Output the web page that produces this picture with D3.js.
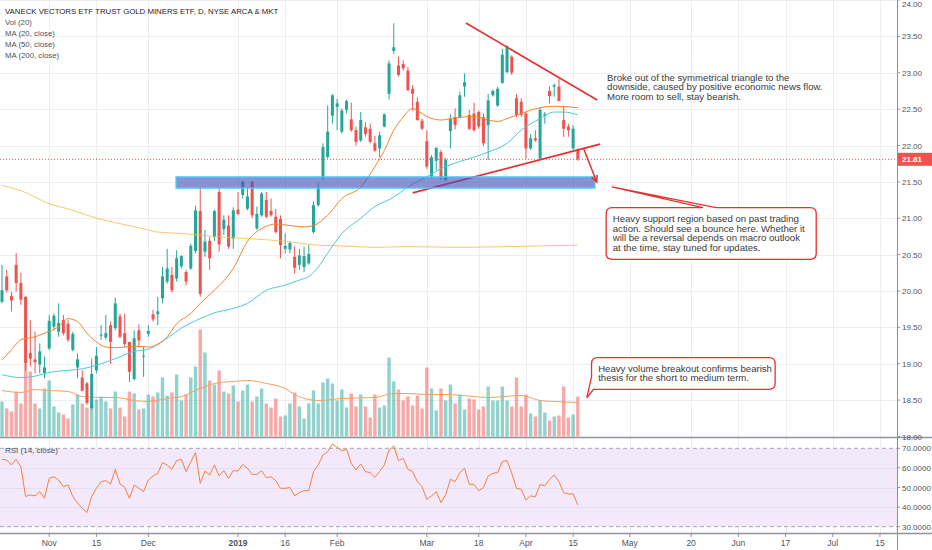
<!DOCTYPE html>
<html>
<head>
<meta charset="utf-8">
<script src="https://cdn.jsdelivr.net/npm/d3@7"></script>
<style>
  body { margin: 0; background: #fff; }
  svg { display: block; font-family: "Liberation Sans", Arial, sans-serif; }
</style>
</head>
<body>
<div class="chart"></div>
<script>
// bar index 0 = 1 Nov 2018, one step per trading day
const firstBar = -10

const opens = [19.85,20.20,19.93,20.36,20.11,19.92,19.15,19.06,18.99,18.87,
  19.21,19.51,19.44,19.60,19.55,19.19,18.95,18.81,18.73,18.39,
  18.91,19.39,19.36,19.53,19.49,19.65,19.42,19.30,18.79,19.46,
  19.10,19.41,19.68,19.68,19.90,20.13,20.22,20.17,20.34,20.26,
  20.31,20.55,21.10,20.54,20.69,20.74,21.36,20.85,20.90,20.72,
  21.12,21.32,21.13,21.50,20.86,21.04,21.25,21.10,21.02,20.99,
  20.58,20.57,20.47,20.36,20.33,20.38,20.81,21.18,21.55,21.84,
  22.41,22.53,22.19,22.49,22.36,22.21,22.07,22.25,22.23,22.03,
  21.96,22.26,22.71,23.30,23.10,23.12,23.03,22.78,22.60,22.34,
  22.06,21.57,21.79,21.91,21.53,22.20,22.39,22.39,22.81,22.42,
  22.44,22.46,22.39,22.28,22.69,22.55,22.86,23.01,23.22,22.65,
  22.60,22.44,21.96,22.10,21.82,22.41,22.75,22.81,22.81,22.35,
  22.26,21.96,21.94]
const highs = [20.36,20.29,19.99,20.52,20.25,19.93,19.60,19.44,19.28,19.10,
  19.67,19.69,19.83,19.67,19.60,19.44,19.14,18.91,18.75,19.07,
  19.23,19.53,19.67,19.58,19.91,19.69,19.69,19.30,19.46,19.54,
  19.23,19.53,19.74,19.92,20.33,20.58,20.33,20.56,20.49,20.29,
  20.65,21.17,21.43,20.84,20.74,21.12,21.41,21.04,21.04,21.15,
  21.36,21.52,21.43,21.51,21.16,21.36,21.36,21.27,21.13,21.04,
  20.79,20.68,20.61,20.58,20.61,20.63,21.23,21.48,22.03,22.55,
  22.71,22.64,22.51,22.63,22.59,22.26,22.46,22.32,22.30,22.13,
  22.19,22.44,23.17,23.68,23.22,23.17,23.08,22.83,22.66,22.37,
  22.21,21.87,21.97,21.94,21.83,22.43,22.51,22.74,22.99,22.49,
  22.59,22.48,22.44,22.71,22.77,22.81,23.33,23.38,23.24,22.71,
  22.65,22.46,22.16,22.21,22.52,22.46,22.81,22.85,22.92,22.53,
  22.30,22.28,21.96]
const lows = [19.83,19.98,19.72,19.99,19.81,18.91,18.96,18.87,18.87,18.80,
  19.19,19.46,19.37,19.39,19.30,19.17,18.80,18.62,18.43,18.37,
  18.87,19.33,19.33,19.00,19.46,19.35,19.23,18.75,18.77,19.23,
  18.82,19.37,19.58,19.53,19.83,20.10,19.98,20.13,20.31,20.08,
  20.29,20.52,19.92,20.47,20.29,20.69,20.54,20.77,20.58,20.58,
  21.04,21.27,21.11,21.00,20.84,21.02,21.00,21.02,20.79,20.45,
  20.52,20.52,20.24,20.29,20.26,20.36,20.79,21.16,21.52,21.82,
  22.30,22.21,22.16,22.44,22.19,22.00,22.05,22.12,22.03,21.91,
  21.84,22.25,22.63,23.26,22.95,23.03,22.75,22.48,22.34,22.21,
  21.68,21.55,21.66,21.53,21.51,21.96,22.22,22.37,22.67,22.21,
  22.19,22.23,21.99,21.80,22.67,22.53,22.85,22.99,22.97,22.39,
  22.39,21.82,21.94,22.05,21.81,22.30,22.58,22.67,22.61,22.12,
  22.12,21.94,21.79]
const closes = [20.01,20.01,19.87,20.11,19.88,19.01,19.07,19.02,19.17,18.95,
  19.59,19.66,19.56,19.42,19.33,19.41,19.06,18.63,18.46,18.86,
  19.11,19.40,19.42,19.30,19.83,19.37,19.27,18.89,19.35,19.32,
  19.11,19.45,19.61,19.72,20.20,20.31,20.01,20.45,20.48,20.13,
  20.62,21.11,19.96,20.68,20.45,21.10,20.64,20.98,20.61,21.11,
  21.06,21.50,21.30,21.04,21.06,21.34,21.02,21.04,20.81,20.63,
  20.62,20.66,20.32,20.49,20.48,20.51,21.18,21.43,21.98,22.19,
  22.69,22.58,22.48,22.61,22.21,22.05,22.35,22.16,22.05,21.93,
  22.14,22.43,23.13,23.35,22.97,23.06,22.76,22.71,22.35,22.23,
  21.71,21.84,21.97,21.56,21.80,22.37,22.28,22.69,22.87,22.23,
  22.21,22.26,22.03,22.62,22.75,22.78,23.25,23.36,23.00,22.42,
  22.42,21.96,22.10,22.07,22.49,22.43,22.68,22.83,22.61,22.23,
  22.21,22.23,21.81]
// volume, millions of shares
const volumes = [35,28,25,45,33,73,65,33,28,48,
  56,30,24,22,18,32,42,33,29,34,
  37,40,35,28,45,29,20,45,43,27,
  28,42,40,44,59,41,44,62,36,42,
  59,70,107,84,56,52,66,45,43,51,
  35,46,52,35,40,48,33,29,38,20,
  21,33,44,30,18,33,46,33,54,58,
  53,36,47,29,43,30,42,30,19,42,
  29,31,79,55,47,36,40,31,41,28,
  69,48,26,48,36,52,33,42,27,38,
  37,27,30,50,36,36,50,36,30,59,
  30,42,23,20,36,24,16,20,21,50,
  19,22,40]
const rsiValues = [64.4,64.0,61.5,64.4,60.6,45.4,46.2,45.7,47.9,44.5,
  54.7,55.5,53.8,50.4,51.3,45.4,42.0,39.4,37.2,45.4,
  49.6,53.0,53.5,51.8,59.3,51.8,50.1,44.5,51.3,49.6,
  47.9,53.8,55.9,57.2,62.7,61.5,59.3,63.7,64.4,58.1,
  63.2,67.8,52.1,58.4,56.4,61.5,55.9,58.6,54.7,58.6,
  58.4,61.8,59.8,56.7,56.7,58.6,55.0,55.5,53.5,49.6,
  49.6,50.0,45.7,47.4,48.4,48.4,58.1,61.5,66.6,68.3,
  72.2,70.5,68.8,69.5,62.3,58.9,62.0,58.1,57.6,55.2,
  58.1,61.5,69.1,71.2,63.7,64.9,59.3,58.1,53.0,50.4,
  44.0,45.7,47.9,42.3,46.2,54.2,53.0,57.6,59.8,51.6,
  51.6,48.4,49.9,55.9,57.2,57.6,63.2,63.7,57.2,49.6,
  49.1,43.6,45.7,45.3,51.6,50.8,54.2,56.4,53.0,47.4,
  46.7,46.7,41.1]

// moving averages: [bar index, value]
const ma20 = [[-10,19.05],[-8,19.19],[-6,19.33],[-3,19.37],[-1,19.42],[2,19.51],[4,19.62],[6,19.58],[8,19.42],[10,19.30],
  [12,19.23],[14,19.22],[16,19.23],[19,19.24],[21,19.23],[25,19.37],[27,19.55],[30,19.69],[32,19.83],[35,20.01],
  [39,20.31],[42,20.68],[46,20.89],[48,20.92],[51,20.90],[54,20.88],[56,20.90],[59,21.04],[62,21.27],[66,21.43],
  [69,21.71],[71,21.93],[73,22.21],[75,22.39],[77,22.51],[78,22.48],[80,22.40],[83,22.35],[86,22.38],[90,22.40],
  [93,22.35],[95,22.33],[97,22.37],[100,22.44],[104,22.52],[107,22.54],[112,22.52]]
const ma50 = [[-10,18.85],[-6,18.81],[-3,18.83],[0,18.88],[4,18.91],[7,18.93],[11,19.00],[14,19.07],[18,19.17],[21,19.20],
  [23,19.27],[25,19.35],[28,19.49],[32,19.62],[35,19.70],[39,19.76],[42,19.83],[46,20.01],[50,20.08],[53,20.15],
  [55,20.20],[57,20.33],[59,20.52],[62,20.79],[66,21.00],[69,21.16],[73,21.29],[76,21.43],[80,21.57],[83,21.68],
  [87,21.78],[90,21.84],[93,21.91],[97,22.03],[100,22.21],[104,22.37],[107,22.46],[109,22.46],[112,22.42]]
const ma200 = [[-10,21.45],[-6,21.38],[0,21.20],[5,21.11],[10,21.00],[14,20.94],[19,20.87],[23,20.81],[28,20.79],[35,20.75],
  [42,20.72],[49,20.69],[57,20.63],[62,20.62],[69,20.60],[76,20.61],[87,20.60],[97,20.61],[112,20.63]]
const volMa20 = [[-10,46],[-6,44],[-3,47],[0,46],[4,45],[7,40],[11,39],[14,39],[18,36],[21,35],
  [25,38],[28,40],[32,48],[35,53],[39,55],[42,56],[46,53],[50,48],[52,42],[55,37],
  [57,36],[62,38],[69,39],[73,43],[76,43],[80,42],[84,42],[90,40],[93,39],[100,41],
  [104,36],[107,35],[112,34]]

const timeTicks = [[0,'Nov'],[10,'15'],[21,'Dec'],[40,'2019'],[50,'16'],[61,'Feb'],[80,'Mar'],[91,'18'],
  [101,'Apr'],[111,'15'],[123,'May'],[136,'20'],[146,'Jun'],[156,'17'],[166,'Jul'],[176,'15']]
const priceTicks = [18, 18.5, 19, 19.5, 20, 20.5, 21, 21.5, 22, 22.5, 23, 23.5, 24]
const rsiTicks = [30, 40, 50, 60, 70]
const lastPrice = 21.81

const legendLines = ['VANECK VECTORS ETF TRUST GOLD MINERS ETF, D, NYSE ARCA & MKT', 'Vol (20)', 'MA (20, close)', 'MA (50, close)', 'MA (200, close)']

// drawings, in [bar index, price]
const upperTrend = [[88.3, 23.684], [116.1, 22.624]]
const lowerTrend = [[77.0, 21.349], [116.7, 22.018]]
const supportZone = [[26.9, 21.567], [115.6, 21.416]]
const breakArrow = [[113.2, 21.961], [116.0, 21.498]]
const noteBreakout = ['Broke out of the symmetrical triangle to the', 'downside, caused by positive economic news flow.', 'More room to sell, stay bearish.']
const noteSupport = ['Heavy support region based on past trading', 'action. Should see a bounce here. Whether it', 'will be a reversal depends on macro outlook', 'at the time, stay tuned for updates.']
const noteVolume = ['Heavy volume breakout confirms bearish', 'thesis for the short to medium term.']

function drawChart() {
  const dims = { width: 932, height: 550, axisX: 897, mainBottom: 437, rsiTop: 438, rsiBottom: 533 }
  const up = '#26a69a', down = '#ef5350', red = '#e8302f'

  const bars = opens.map((o, k) => ({
    i: firstBar + k, o, h: highs[k], l: lows[k], c: closes[k], v: volumes[k], r: rsiValues[k]
  }))

  const x = d3.scaleLinear().domain([0, 176]).range([49.2, 49.2 + 176 * 4.72])
  const y = d3.scaleLinear().domain([18, 24]).range([436.5, 0])
  const yVol = d3.scaleLinear().domain([0, 100]).range([436.5, 336.5])
  const yRsi = d3.scaleLinear().domain([30, 70]).range([526.7, 448.3])
  const step = x(1) - x(0)

  const svg = d3.select('.chart').append('svg')
    .attr('width', dims.width)
    .attr('height', dims.height)

  const defs = svg.append('defs')
  defs.append('clipPath').attr('id', 'mainClip').append('rect')
    .attr('x', 0).attr('y', 0).attr('width', dims.axisX).attr('height', dims.mainBottom)
  defs.append('clipPath').attr('id', 'rsiClip').append('rect')
    .attr('x', 0).attr('y', dims.rsiTop).attr('width', dims.axisX).attr('height', dims.rsiBottom - dims.rsiTop)

  // rsi background band
  svg.append('rect')
    .attr('x', 0).attr('width', dims.axisX)
    .attr('y', yRsi(70)).attr('height', yRsi(30) - yRsi(70))
    .attr('fill', '#f3e9fb')

  // grid
  const grid = svg.append('g').attr('stroke', '#eceef3').attr('stroke-width', 1)
  grid.selectAll('.vg').data(timeTicks).join('line')
    .attr('x1', d => Math.round(x(d[0])) + 0.5).attr('x2', d => Math.round(x(d[0])) + 0.5)
    .attr('y1', 0).attr('y2', dims.rsiBottom)
  grid.selectAll('.hg').data(priceTicks.slice(1)).join('line')
    .attr('x1', 0).attr('x2', dims.axisX)
    .attr('y1', d => Math.round(y(d)) + 0.5).attr('y2', d => Math.round(y(d)) + 0.5)
  svg.append('g').attr('stroke', '#e6def0')
    .selectAll('line').data([40, 50, 60]).join('line')
    .attr('x1', 0).attr('x2', dims.axisX)
    .attr('y1', d => Math.round(yRsi(d)) + 0.5).attr('y2', d => Math.round(yRsi(d)) + 0.5)
  svg.append('g').attr('stroke', '#a3a6af').attr('stroke-dasharray', '4,3')
    .selectAll('line').data([30, 70]).join('line')
    .attr('x1', 0).attr('x2', dims.axisX)
    .attr('y1', d => yRsi(d)).attr('y2', d => yRsi(d))

  const main = svg.append('g').attr('clip-path', 'url(#mainClip)')

  // volume
  main.append('g').selectAll('rect').data(bars).join('rect')
    .attr('x', d => x(d.i) - step * 0.36)
    .attr('width', step * 0.72)
    .attr('y', d => yVol(d.v))
    .attr('height', d => yVol(0) - yVol(d.v))
    .attr('fill', d => d.c >= d.o ? up : down)
    .attr('opacity', 0.5)

  const maLine = (scaleY) => d3.line()
    .x(d => x(d[0])).y(d => scaleY(d[1]))
    .curve(d3.curveMonotoneX)

  main.append('path').datum(volMa20)
    .attr('d', maLine(yVol)).attr('fill', 'none')
    .attr('stroke', '#f5a25d').attr('stroke-width', 1)

  // candles
  const candles = main.append('g').selectAll('g').data(bars).join('g')
    .attr('fill', d => d.c >= d.o ? up : down)
    .attr('stroke', d => d.c >= d.o ? up : down)
  candles.append('line')
    .attr('x1', d => x(d.i)).attr('x2', d => x(d.i))
    .attr('y1', d => y(d.h)).attr('y2', d => y(d.l))
    .attr('stroke-width', 1)
  candles.append('rect')
    .attr('x', d => x(d.i) - step * 0.32)
    .attr('width', step * 0.64)
    .attr('y', d => y(Math.max(d.o, d.c)))
    .attr('height', d => Math.max(1, Math.abs(y(d.o) - y(d.c))))
    .attr('stroke', 'none')

  // moving averages
  main.append('path').datum(ma200).attr('d', maLine(y))
    .attr('fill', 'none').attr('stroke', '#f9b94a').attr('stroke-opacity', 0.8).attr('stroke-width', 1)
  main.append('path').datum(ma50).attr('d', maLine(y))
    .attr('fill', 'none').attr('stroke', '#4fc9d6').attr('stroke-width', 1)
  main.append('path').datum(ma20).attr('d', maLine(y))
    .attr('fill', 'none').attr('stroke', '#f5832a').attr('stroke-width', 1)

  // last price line
  main.append('line')
    .attr('x1', 0).attr('x2', dims.axisX)
    .attr('y1', y(lastPrice)).attr('y2', y(lastPrice))
    .attr('stroke', down).attr('stroke-dasharray', '1,2')

  // trend lines, then the support zone over them
  const seg = (g, pts) => g.append('line')
    .attr('x1', x(pts[0][0])).attr('y1', y(pts[0][1]))
    .attr('x2', x(pts[1][0])).attr('y2', y(pts[1][1]))
  seg(main, upperTrend).attr('stroke', red).attr('stroke-width', 1.7)
  seg(main, lowerTrend).attr('stroke', red).attr('stroke-width', 1.7)

  main.append('rect')
    .attr('x', x(supportZone[0][0])).attr('y', y(supportZone[0][1]))
    .attr('width', x(supportZone[1][0]) - x(supportZone[0][0]))
    .attr('height', y(supportZone[1][1]) - y(supportZone[0][1]))
    .attr('fill', '#3f51b5').attr('fill-opacity', 0.62)
    .attr('stroke', '#4fc3f7').attr('stroke-width', 1.5)

  // break arrow
  const ax1 = x(breakArrow[0][0]), ay1 = y(breakArrow[0][1])
  const ax2 = x(breakArrow[1][0]), ay2 = y(breakArrow[1][1])
  const ang = Math.atan2(ay2 - ay1, ax2 - ax1)
  main.append('path')
    .attr('d', `M${ax1},${ay1}L${ax2},${ay2}` +
      `M${ax2 - 7 * Math.cos(ang - 0.45)},${ay2 - 7 * Math.sin(ang - 0.45)}L${ax2},${ay2}` +
      `L${ax2 - 7 * Math.cos(ang + 0.45)},${ay2 - 7 * Math.sin(ang + 0.45)}`)
    .attr('fill', 'none').attr('stroke', red).attr('stroke-width', 1.5)

  // callouts
  const r = 6
  const b2 = { x0: x(118), x1: x(162.5), y0: y(21.145), y1: y(20.436) }
  const t2 = { a: x(138.5), b: x(141.3), tx: x(119.2), ty: y(21.43) }
  main.append('path')
    .attr('d', `M${b2.x0 + r},${b2.y0}L${t2.a},${b2.y0}L${t2.tx},${t2.ty}L${t2.b},${b2.y0}` +
      `L${b2.x1 - r},${b2.y0}Q${b2.x1},${b2.y0} ${b2.x1},${b2.y0 + r}L${b2.x1},${b2.y1 - r}` +
      `Q${b2.x1},${b2.y1} ${b2.x1 - r},${b2.y1}L${b2.x0 + r},${b2.y1}Q${b2.x0},${b2.y1} ${b2.x0},${b2.y1 - r}` +
      `L${b2.x0},${b2.y0 + r}Q${b2.x0},${b2.y0} ${b2.x0 + r},${b2.y0}Z`)
    .attr('fill', '#fff').attr('stroke', red).attr('stroke-width', 1.3)

  const b3 = { x0: x(114.9), x1: x(153.8), y0: y(19.083), y1: y(18.649) }
  const t3 = { a: y(18.818), tx: x(113.9), ty: y(18.533) }
  main.append('path')
    .attr('d', `M${b3.x0 + r},${b3.y0}L${b3.x1 - r},${b3.y0}Q${b3.x1},${b3.y0} ${b3.x1},${b3.y0 + r}` +
      `L${b3.x1},${b3.y1 - r}Q${b3.x1},${b3.y1} ${b3.x1 - r},${b3.y1}L${b3.x0 + 2},${b3.y1}` +
      `L${t3.tx},${t3.ty}L${b3.x0},${t3.a}L${b3.x0},${b3.y0 + r}Q${b3.x0},${b3.y0} ${b3.x0 + r},${b3.y0}Z`)
    .attr('fill', '#fff').attr('stroke', red).attr('stroke-width', 1.3)

  const note = (lines, i, p) => main.append('g')
    .attr('font-size', 9.6).attr('fill', '#3a3a3a')
    .selectAll('text').data(lines).join('text')
    .attr('x', x(i)).attr('y', (d, k) => y(p) + k * 9.4)
    .text(d => d)
  note(noteBreakout, 118.2, 22.887)
  note(noteSupport, 119.4, 20.944)
  note(noteVolume, 116.3, 18.891)

  // rsi line
  svg.append('g').attr('clip-path', 'url(#rsiClip)')
    .append('path').datum(bars)
    .attr('d', d3.line().x(d => x(d.i)).y(d => yRsi(d.r)))
    .attr('fill', 'none').attr('stroke', '#f5803e').attr('stroke-width', 1)

  // pane borders and axes
  const frame = svg.append('g').attr('stroke', '#8e929b')
  frame.append('line').attr('x1', 0).attr('x2', dims.width).attr('y1', dims.mainBottom + 0.5).attr('y2', dims.mainBottom + 0.5).attr('stroke-width', 1.5)
  frame.append('line').attr('x1', 0).attr('x2', dims.width).attr('y1', dims.rsiBottom + 0.5).attr('y2', dims.rsiBottom + 0.5).attr('stroke-width', 1.5)
  frame.append('line').attr('x1', dims.axisX + 0.5).attr('x2', dims.axisX + 0.5).attr('y1', 0).attr('y2', dims.height)

  const priceAxis = svg.append('g').attr('font-size', 8).attr('fill', '#50535e')
  priceAxis.selectAll('line').data(priceTicks).join('line')
    .attr('x1', dims.axisX).attr('x2', dims.axisX + 3)
    .attr('y1', d => y(d)).attr('y2', d => y(d)).attr('stroke', '#8e929b')
  priceAxis.selectAll('text').data(priceTicks).join('text')
    .attr('x', dims.axisX + 5).attr('y', d => Math.max(7, y(d) + 3))
    .text(d => d3.format('.2f')(d))

  const rsiAxis = svg.append('g').attr('font-size', 8).attr('fill', '#50535e')
  rsiAxis.selectAll('line').data(rsiTicks).join('line')
    .attr('x1', dims.axisX).attr('x2', dims.axisX + 3)
    .attr('y1', d => yRsi(d)).attr('y2', d => yRsi(d)).attr('stroke', '#8e929b')
  rsiAxis.selectAll('text').data(rsiTicks).join('text')
    .attr('x', dims.axisX + 5).attr('y', d => yRsi(d) + 3)
    .text(d => d3.format('.4f')(d))

  // last price tag
  svg.append('rect')
    .attr('x', dims.axisX + 1).attr('y', y(lastPrice) - 6.5)
    .attr('width', dims.width - dims.axisX - 1).attr('height', 13)
    .attr('fill', down)
  svg.append('text')
    .attr('x', dims.axisX + 5).attr('y', y(lastPrice) + 3)
    .attr('font-size', 8).attr('font-weight', 'bold').attr('fill', '#fff')
    .text(d3.format('.2f')(lastPrice))

  const timeAxis = svg.append('g').attr('font-size', 8.5).attr('fill', '#50535e')
  timeAxis.selectAll('line').data(timeTicks).join('line')
    .attr('x1', d => x(d[0])).attr('x2', d => x(d[0]))
    .attr('y1', dims.rsiBottom + 1).attr('y2', dims.rsiBottom + 4)
    .attr('stroke', '#8e929b')
  timeAxis.selectAll('text').data(timeTicks).join('text')
    .attr('x', d => x(d[0])).attr('y', 546)
    .attr('text-anchor', 'middle')
    .attr('font-weight', d => d[1] === '2019' ? 'bold' : 'normal')
    .text(d => d[1])

  // legends
  svg.append('g').selectAll('text').data(legendLines).join('text')
    .attr('x', 5).attr('y', (d, k) => k === 0 ? 14 : 14 + k * 10.9)
    .attr('font-size', 7.8)
    .attr('fill', (d, k) => k === 0 ? '#1e222d' : '#4c525e')
    .text(d => d)
  svg.append('text')
    .attr('x', 5).attr('y', 453)
    .attr('font-size', 8).attr('fill', '#4c525e')
    .text('RSI (14, close)')
}

drawChart()
</script>
</body>
</html>
